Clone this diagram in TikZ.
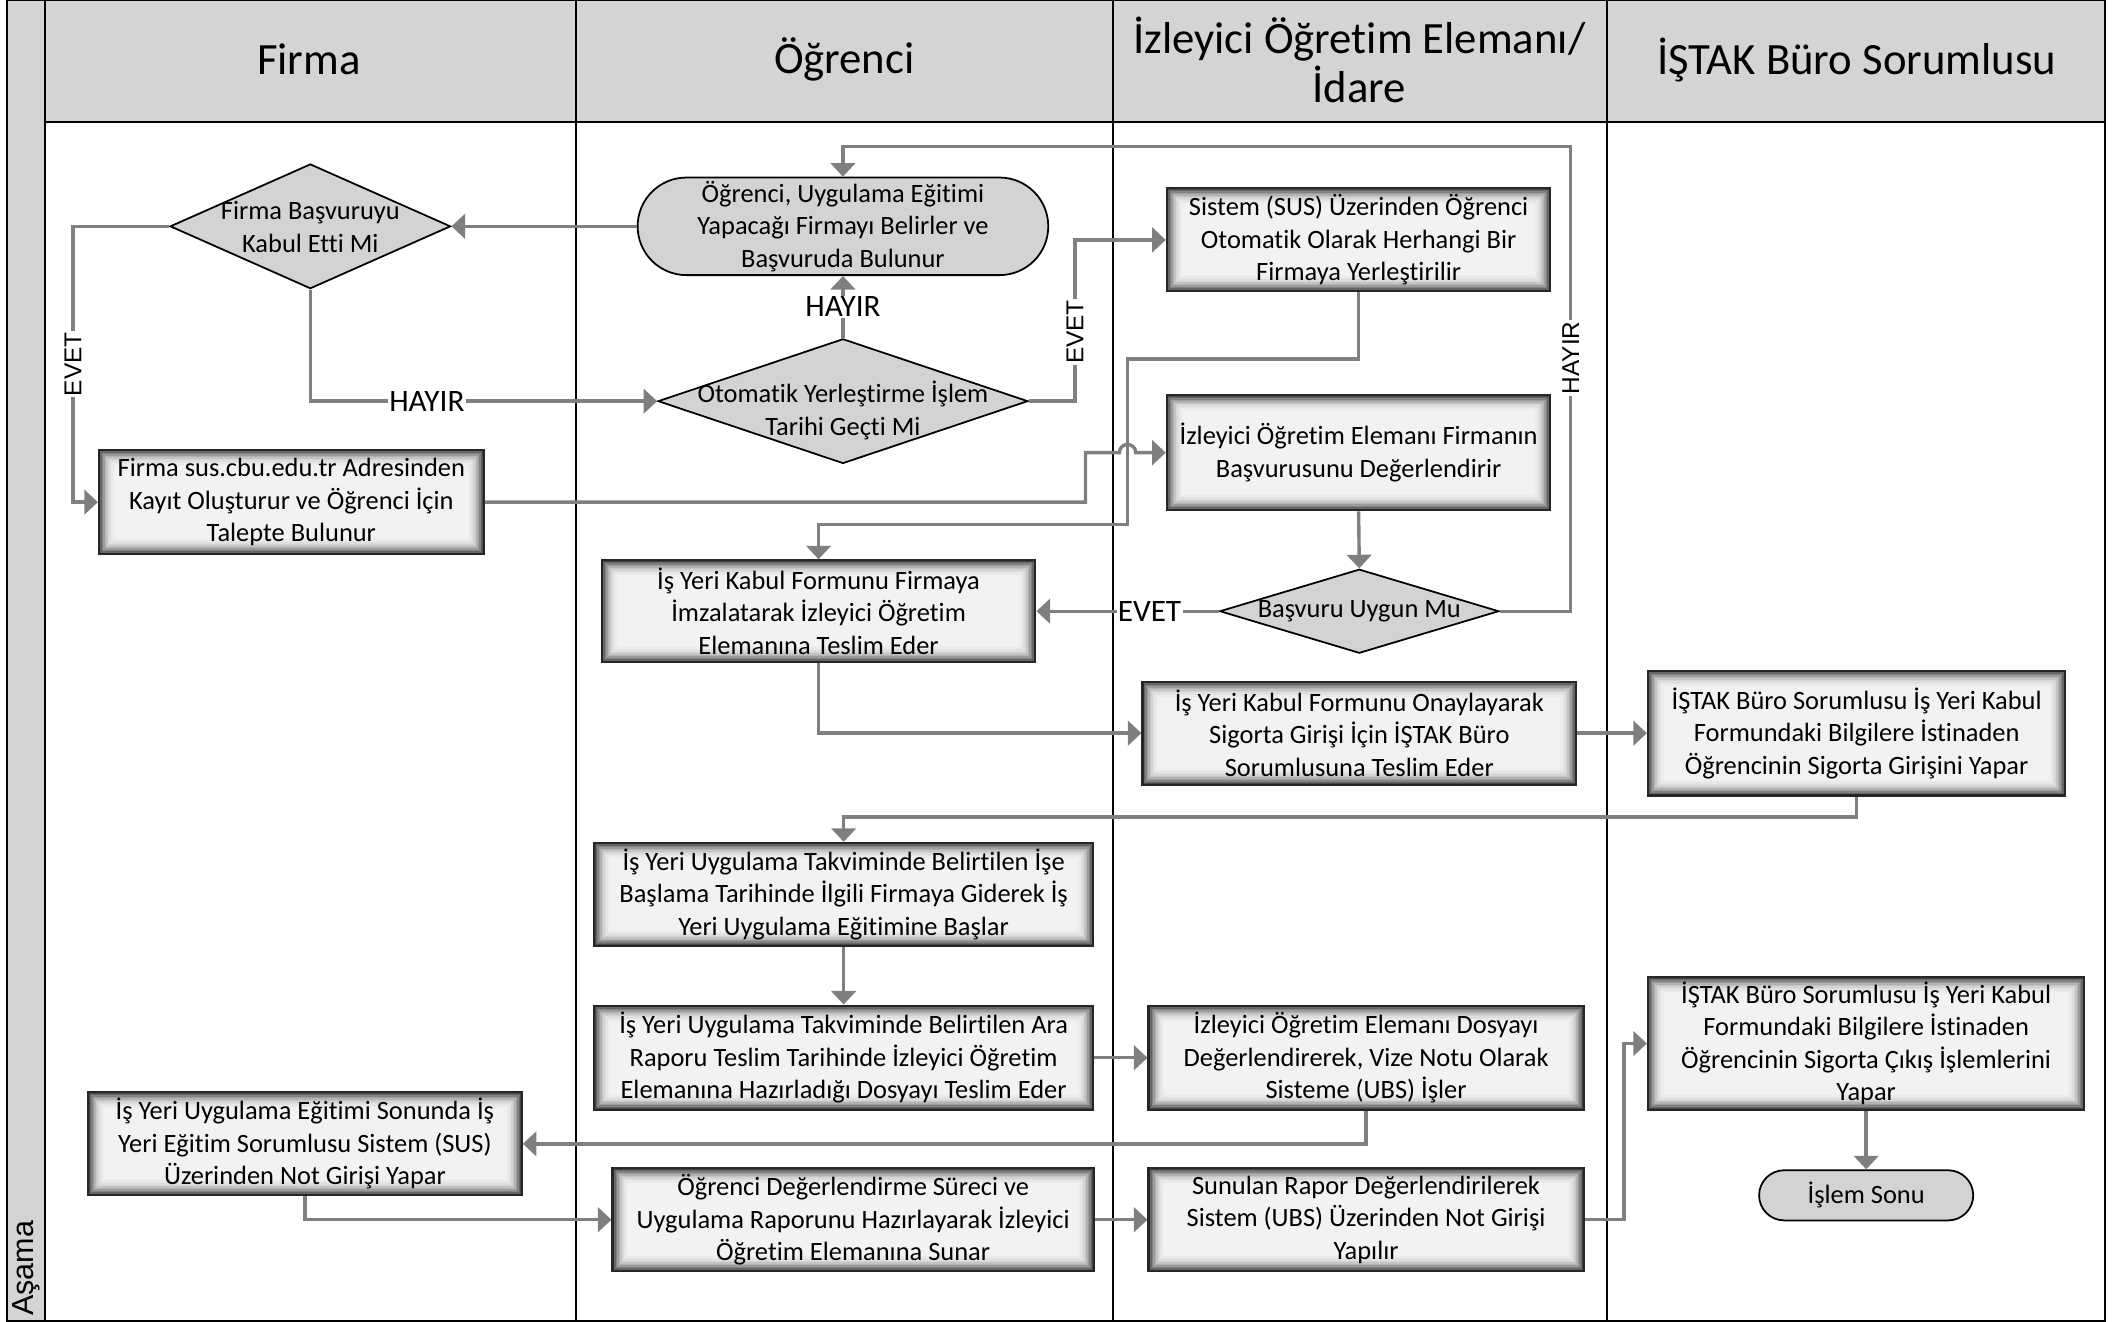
\documentclass[tikz,border=0pt]{standalone}
\usepackage{fontspec}
\setmainfont{Carlito}[Ligatures=NoCommon]
\newfontfamily\arialf{Liberation Sans}
\usetikzlibrary{arrows.meta,shapes.geometric,shapes.misc}
\definecolor{hdrgray}{HTML}{D4D4D4}
\definecolor{shapegray}{HTML}{D3D3D3}
\definecolor{conngray}{HTML}{7F7F7F}
\definecolor{edgedark}{HTML}{262626}
\tikzset{
  sbox/.style={draw=edgedark, line width=1.6pt, align=center, inner sep=0pt,
    font=\fontsize{19.5}{24}\selectfont,
    path picture={
      \foreach \i/\c in {0/72,1/60,2/49,3/39,4/30,5/23,6/17,7/13,8/10,9/8,10/6,11/5}{
        \fill[black!\c] ([xshift={1.1pt*\i},yshift={-1.1pt*\i}]path picture bounding box.north west)
          rectangle ([xshift={-1.1pt*\i},yshift={1.1pt*\i}]path picture bounding box.south east);
      }
    }},
  term/.style={rounded rectangle, draw=black, line width=1.3pt, fill=shapegray, align=center,
    inner sep=0pt, font=\fontsize{19.5}{24}\selectfont},
  dia/.style={diamond, draw=black, line width=1.3pt, fill=shapegray, inner sep=0pt},
  dtext/.style={align=center, inner sep=0pt, font=\fontsize{19.5}{24}\selectfont},
  hdr/.style={align=center, inner sep=0pt, font=\fontsize{33}{36}\selectfont},
  conn/.style={draw=conngray, line width=2.5pt, -{Triangle[length=10pt,width=18pt]}},
  lblh/.style={fill=white, inner sep=1pt, font=\fontsize{23}{26}\selectfont},
  lblv/.style={fill=white, inner sep=1pt, rotate=90, font=\arialf\fontsize{18}{20}\selectfont},
}
\begin{document}
\begin{tikzpicture}[x=1pt,y=-1pt]
\useasboundingbox (0,0) rectangle (1568,975);
% frame
\fill[hdrgray] (33,0) rectangle (1553,90);
\fill[hdrgray] (5,0) rectangle (33,975);
\draw[line width=1.3pt] (5,0) rectangle (1553,975);
\draw[line width=1.3pt] (33,0) -- (33,975);
\draw[line width=1.6pt] (33,90) -- (1553,90);
\foreach \x in {425,821,1186} \draw[line width=1.3pt] (\x,0) -- (\x,975);
% headers
\node[hdr] (h1) at (228,44) {Firma};
\node[hdr] (h2) at (623,44) {Öğrenci};
\node[hdr] (h3) at (1003,44) {İzleyici Öğretim Elemanı/\\İdare};
\node[hdr] (h4) at (1370,44) {İŞTAK Büro Sorumlusu};
\node[rotate=90, anchor=west, inner sep=0pt, font=\arialf\fontsize{22.5}{24}\selectfont] (asama) at (19,971) {Aşama};
% nodes
\node[term, minimum width=303pt, minimum height=72pt] (app) at (622,167)
  {Öğrenci, Uygulama Eğitimi\\Yapacağı Firmayı Belirler ve\\Başvuruda Bulunur};
\node[dia, minimum width=207pt, minimum height=92pt] (dF) at (229,167) {};
\node[dtext] (dFt) at (229,167.5) {Firma Başvuruyu\\Kabul Etti Mi};
\node[dia, minimum width=273pt, minimum height=92pt] (dO) at (622,296) {};
\node[dtext] (dOt) at (622,303) {Otomatik Yerleştirme İşlem\\Tarihi Geçti Mi};
\node[sbox, minimum width=283pt, minimum height=76pt] (sus) at (1002.5,177)
  {Sistem (SUS) Üzerinden Öğrenci\\Otomatik Olarak Herhangi Bir\\Firmaya Yerleştirilir};
\node[sbox, minimum width=284pt, minimum height=77pt] (fk) at (215,370.5)
  {Firma sus.cbu.edu.tr Adresinden\\Kayıt Oluşturur ve Öğrenci İçin\\Talepte Bulunur};
\node[sbox, minimum width=283pt, minimum height=85pt] (izd) at (1002.5,334)
  {İzleyici Öğretim Elemanı Firmanın\\Başvurusunu Değerlendirir};
\node[dia, minimum width=206pt, minimum height=62pt] (dB) at (1003,451) {};
\node[dtext] (dBt) at (1003,451) {Başvuru Uygun Mu};
\node[sbox, minimum width=320pt, minimum height=75pt] (isf) at (604,451)
  {İş Yeri Kabul Formunu Firmaya\\İmzalatarak İzleyici Öğretim\\Elemanına Teslim Eder};
\node[sbox, minimum width=320pt, minimum height=76pt] (onay) at (1003,541)
  {İş Yeri Kabul Formunu Onaylayarak\\Sigorta Girişi İçin İŞTAK Büro\\Sorumlusuna Teslim Eder};
\node[sbox, minimum width=308pt, minimum height=92pt] (ig) at (1370,541)
  {İŞTAK Büro Sorumlusu İş Yeri Kabul\\Formundaki Bilgilere İstinaden\\Öğrencinin Sigorta Girişini Yapar};
\node[sbox, minimum width=368pt, minimum height=76pt] (basla) at (622.5,660)
  {İş Yeri Uygulama Takviminde Belirtilen İşe\\Başlama Tarihinde İlgili Firmaya Giderek İş\\Yeri Uygulama Eğitimine Başlar};
\node[sbox, minimum width=368pt, minimum height=77pt] (ara) at (622.5,780.5)
  {İş Yeri Uygulama Takviminde Belirtilen Ara\\Raporu Teslim Tarihinde İzleyici Öğretim\\Elemanına Hazırladığı Dosyayı Teslim Eder};
\node[sbox, minimum width=321pt, minimum height=77pt] (vize) at (1008,780.5)
  {İzleyici Öğretim Elemanı Dosyayı\\Değerlendirerek, Vize Notu Olarak\\Sisteme (UBS) İşler};
\node[sbox, minimum width=322pt, minimum height=98pt] (ic) at (1377,770)
  {İŞTAK Büro Sorumlusu İş Yeri Kabul\\Formundaki Bilgilere İstinaden\\Öğrencinin Sigorta Çıkış İşlemlerini\\Yapar};
\node[sbox, minimum width=320pt, minimum height=76pt] (nf) at (225,844)
  {İş Yeri Uygulama Eğitimi Sonunda İş\\Yeri Eğitim Sorumlusu Sistem (SUS)\\Üzerinden Not Girişi Yapar};
\node[sbox, minimum width=355pt, minimum height=76pt] (rapor) at (629.5,900)
  {Öğrenci Değerlendirme Süreci ve\\Uygulama Raporunu Hazırlayarak İzleyici\\Öğretim Elemanına Sunar};
\node[sbox, minimum width=321pt, minimum height=76pt] (sun) at (1008,900)
  {Sunulan Rapor Değerlendirilerek\\Sistem (UBS) Üzerinden Not Girişi\\Yapılır};
\node[term, minimum width=158pt, minimum height=37pt] (son) at (1377,882) {İşlem Sonu};
% connectors
\draw[conn] (app.west) -- (dF.east);
\draw[conn] (dF.west) -- ++(-71,0) |- node[lblv,pos=0.25]{EVET} (fk.west);
\draw[conn] (dF.south) |- node[lblh,pos=0.668]{HAYIR} (dO.west);
\draw[conn] (dO.north) -- node[lblh]{HAYIR} (app.south);
\draw[conn] (dO.east) -- ++(34,0) |- node[lblv,pos=0.214]{EVET} (sus.west);
\draw[conn] (sus.south) -- ++(0,49) -- ++(-170.5,0) -- ++(0,122) -| (isf.north);
\draw[conn] (fk.east) -- (801,370.5) -- (801,334) -- (826,334)
  .. controls (826,326) and (838,326) .. (838,334) -- (izd.west);
\draw[conn] (izd.south) -- (dB.north);
\draw[conn] (dB.west) -- node[lblh,pos=0.38]{EVET} (isf.east);
\draw[conn] (dB.east) -- (1159,451) -- node[lblv,pos=0.545]{HAYIR} (1159,108) -| (app.north);
\draw[conn] (isf.south) |- (onay.west);
\draw[conn] (onay.east) -- (ig.west);
\draw[conn] (ig.south) -- ++(0,15) -| (basla.north);
\draw[conn] (basla.south) -- (ara.north);
\draw[conn] (ara.east) -- (vize.west);
\draw[conn] (vize.south) |- (nf.east);
\draw[conn] (nf.south) |- (rapor.west);
\draw[conn] (rapor.east) -- (sun.west);
\draw[conn] (sun.east) -- ++(29,0) |- (ic.west);
\draw[conn] (ic.south) -- (son.north);
\end{tikzpicture}
\end{document}
